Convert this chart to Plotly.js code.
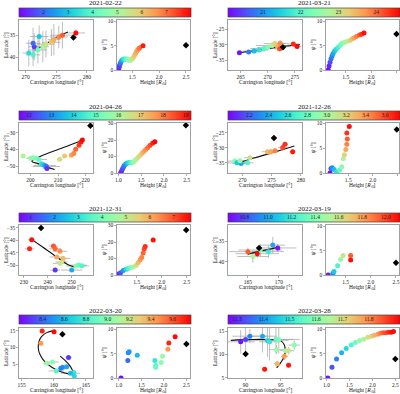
<!DOCTYPE html>
<html><head><meta charset="utf-8">
<script src="https://cdn.plot.ly/plotly-3.0.1.min.js"></script>
<style>html,body{margin:0;padding:0;background:#fff}#c{width:400px;height:394px}</style>
</head><body><div id="c"></div><script>
// ---------------- DATA ----------------
const dates = ["2021-02-22","2021-03-21","2021-04-26","2021-12-26","2021-12-31","2022-03-19","2022-03-20","2022-03-28"];

// 2021-02-22
const e1_trange = [1.0, 8.0];
const e1_cbticks = [2,3,4,5,6,7];
const e1_t    = [1.5, 2.0, 3.0, 3.3, 3.8, 4.3, 5.0, 5.5, 6.0, 6.3, 6.8, 7.2, 7.9];
const e1_lon  = [271.4, 271.2, 272.2, 270.5, 271.2, 272.0, 272.8, 273.3, 274.2, 274.6, 275.4, 276.0, 278.2];
const e1_lat  = [-37.6, -36.8, -35.3, -39.0, -39.4, -38.3, -37.6, -37.0, -36.6, -36.0, -35.4, -35.0, -34.5];
const e1_elon = [1.0, 1.2, 1.5, 1.0, 1.2, 1.5, 1.0, 1.5, 1.5, 1.0, 1.5, 2.0, 1.5];
const e1_elat = [3.0, 3.5, 2.5, 3.0, 2.5, 3.0, 3.5, 3.0, 3.0, 3.5, 2.5, 3.0, 0.8];
const e1_fitlon = [271.5, 272.8, 274.2, 275.6, 276.9];
const e1_fitlat = [-38.4, -37.4, -36.2, -35.1, -34.3];
const e1_h   = [1.24,1.25,1.26,1.27,1.28,1.30,1.32,1.34,1.36,1.38,1.40,1.42,1.44,1.46,1.48,1.50,1.52,1.54,1.56,1.58,1.60,1.62,1.64,1.70];
const e1_psi = [0.0,0.4,0.8,1.2,1.5,1.9,2.1,2.2,2.25,2.25,2.2,2.1,2.0,2.0,2.1,2.3,2.6,3.0,3.4,3.8,4.1,4.4,4.6,5.0];
const e1_ht  = [1.1,1.3,1.5,1.8,2.1,2.5,2.9,3.3,3.6,3.9,4.2,4.5,4.7,4.9,5.1,5.4,5.7,6.0,6.2,6.4,6.6,6.8,7.0,7.8];
const e1_ref = [277.8, -35.5, 2.5, 5.1];

// 2021-03-21
const e2_trange = [20.07, 24.63];
const e2_cbticks = [21,22,23,24];
const e2_t    = [20.2, 20.8, 21.3, 21.7, 22.0, 22.3, 22.8, 23.2, 23.5, 23.8, 24.2, 24.4, 24.6];
const e2_lon  = [264.8, 266.5, 267.5, 268.4, 269.3, 270.0, 270.8, 271.3, 271.8, 272.3, 272.2, 274.7, 275.4];
const e2_lat  = [-32.6, -32.3, -32.0, -31.7, -31.2, -30.9, -30.2, -29.6, -30.6, -29.5, -31.3, -29.7, -30.5];
const e2_elon = [0.5, 1.5, 2.0, 1.5, 2.5, 2.0, 3.0, 2.0, 2.5, 1.5, 1.0, 1.0, 0.8];
const e2_elat = [0.3, 0.5, 0.8, 0.6, 0.8, 1.0, 1.0, 0.8, 1.2, 0.9, 0.8, 0.5, 0.5];
const e2_fitlon = [264.5, 267.5, 270.5, 273.5, 275.9];
const e2_fitlat = [-32.6, -31.9, -31.1, -30.4, -29.9];
const e2_h   = [1.155,1.17,1.19,1.21,1.23,1.25,1.28,1.31,1.35,1.39,1.43,1.48,1.53,1.58,1.62,1.66,1.71,1.77,1.81,1.86];
const e2_psi = [0.0,0.8,1.6,2.3,2.9,3.4,3.9,4.3,4.7,5.1,5.5,5.7,5.9,6.1,6.4,6.6,6.9,7.2,7.35,7.6];
const e2_ht  = [20.1,20.3,20.5,20.7,20.9,21.1,21.35,21.6,21.85,22.1,22.35,22.6,22.85,23.1,23.35,23.6,23.85,24.1,24.3,24.55];
const e2_ref = [272.8, -30.8, 2.5, 7.4];

// 2021-04-26
const e3_trange = [11.55, 19.25];
const e3_cbticks = [12,13,14,15,16,17,18,19];
const e3_t    = [16.0, 15.8, 15.5, 15.3, 15.0, 14.3, 14.0, 13.3, 12.8, 12.0, 16.6, 17.0, 17.5, 17.9, 18.3, 18.7, 19.0, 19.2];
const e3_lon  = [197.4, 200.1, 201.0, 202.0, 203.0, 204.0, 204.5, 205.2, 205.8, 206.0, 210.6, 212.4, 214.8, 215.7, 216.4, 217.6, 218.3, 218.8];
const e3_lat  = [-43.9, -45.3, -45.0, -45.3, -46.0, -48.5, -49.0, -49.6, -50.2, -51.4, -45.9, -43.9, -43.5, -42.4, -39.8, -37.5, -35.5, -34.3];
const e3_elon = [0.5, 1.5, 2.0, 2.0, 3.0, 2.0, 2.0, 4.0, 5.0, 1.5, 1.0, 1.0, 0.8, 0.5, 0.5, 0.5, 0.5, 0.5];
const e3_elat = [0.5, 0.8, 0.8, 1.0, 1.0, 1.0, 1.0, 1.0, 1.0, 1.0, 0.8, 0.8, 0.8, 0.8, 0.8, 0.5, 0.5, 0.5];
const e3_fitlon = [208.8, 206.5, 204.6, 202.5, 201.0, 200.5, 201.2, 202.2, 204.5, 207.0, 210.0, 213.0, 216.0, 219.0];
const e3_fitlat = [-52.0, -50.8, -49.4, -48.3, -47.6, -46.9, -46.0, -45.3, -43.5, -41.8, -40.0, -38.2, -36.3, -34.3];
const e3_h   = [1.05,1.07,1.09,1.11,1.13,1.16,1.19,1.22,1.25,1.28,1.31,1.34,1.37,1.40,1.44,1.48,1.52,1.56,1.60,1.64,1.69,1.75,1.80];
const e3_psi = [0.0,1.2,2.4,3.5,4.5,5.4,5.9,6.2,6.3,6.3,6.5,7.0,7.8,8.6,9.7,10.8,12.0,13.1,14.2,15.3,16.7,18.0,19.0];
const e3_ht  = [11.6,11.9,12.2,12.5,12.8,13.2,13.6,14.0,14.4,14.8,15.2,15.6,16.0,16.3,16.6,16.9,17.2,17.5,17.8,18.1,18.5,18.9,19.2];
const e3_ref = [221.7, -25.7, 2.48, 28.9];

// 2021-12-26
const e4_trange = [1.98, 3.755];
const e4_cbticks = [2.2,2.4,2.6,2.8,3.0,3.2,3.4,3.6];
const e4_t    = [2.85, 2.5, 2.4, 2.7, 2.95, 3.15, 3.3, 3.35, 3.45, 3.6, 3.65, 3.7];
const e4_lon  = [268.7, 269.1, 269.8, 270.9, 269.6, 271.3, 274.3, 274.9, 275.6, 276.9, 277.3, 278.6];
const e4_lat  = [-34.4, -35.0, -35.2, -35.0, -34.3, -33.3, -31.3, -31.3, -31.0, -29.9, -28.8, -31.3];
const e4_elon = [1.5, 2.0, 1.5, 1.0, 1.0, 1.0, 1.0, 0.8, 0.8, 0.8, 0.5, 0.5];
const e4_elat = [0.5, 0.6, 0.8, 0.5, 0.5, 0.8, 0.8, 1.0, 0.8, 1.0, 0.8, 0.8];
const e4_fitlon = [268.8, 272.0, 275.0, 278.9];
const e4_fitlat = [-35.4, -33.4, -31.7, -29.4];
const e4_h   = [1.127,1.147,1.17,1.21,1.26,1.32,1.365,1.40,1.42,1.45,1.47,1.48,1.47,1.52];
const e4_psi = [0.0,0.9,1.05,0.7,0.2,0.56,1.26,2.87,3.7,4.75,5.8,6.85,8.1,9.4];
const e4_ht  = [2.0,2.15,2.3,2.45,2.6,2.75,2.9,3.05,3.2,3.35,3.45,3.55,3.65,3.72];
const e4_ref = [275.4, -26.7, 2.49, 8.8];

// 2021-12-31
const e5_trange = [0.51, 7.73];
const e5_cbticks = [1,2,3,4,5,6,7];
const e5_t    = [7.6, 7.4, 7.0, 6.8, 6.4, 6.1, 5.8, 5.4, 5.0, 4.3, 3.9, 3.5, 2.2, 1.0];
const e5_lon  = [233.3, 232.4, 242.4, 243.1, 245.1, 243.75, 246.5, 245.8, 245.1, 251.8, 252.8, 254.2, 250.0, 243.1];
const e5_lat  = [-39.8, -43.4, -42.3, -43.4, -44.4, -46.7, -47.3, -48.7, -49.3, -50.4, -50.0, -50.3, -52.0, -52.0];
const e5_elon = [1.5, 2.0, 2.0, 2.5, 3.0, 3.0, 3.0, 2.5, 3.0, 4.0, 3.5, 3.0, 4.5, 2.0];
const e5_elat = [0.5, 0.6, 0.8, 1.0, 0.8, 0.8, 1.0, 0.8, 0.8, 0.8, 0.8, 0.8, 0.6, 0.6];
const e5_fitlon = [233.6, 238.0, 242.0, 246.0, 249.0, 251.0, 253.0];
const e5_fitlat = [-39.8, -42.8, -45.5, -48.3, -50.1, -50.7, -50.3];
const e5_h   = [1.15,1.18,1.23,1.29,1.33,1.38,1.43,1.49,1.53,1.57,1.60,1.63,1.65,1.67,1.83];
const e5_psi = [0.8,1.4,2.7,3.5,3.9,4.5,4.9,5.9,7.6,9.2,10.6,13.3,15.7,17.3,21.2];
const e5_ht  = [0.7,1.3,2.0,2.8,3.4,4.0,4.6,5.3,5.8,6.2,6.5,6.8,7.1,7.3,7.6];
const e5_ref = [237.2, -35.0, 2.49, 27.3];

// 2022-03-19
const e6_trange = [10.66, 12.12];
const e6_cbticks = [10.8,11.0,11.2,11.4,11.6,11.8,12.0];
const e6_t    = [10.7, 11.0, 11.2, 11.35, 12.1, 11.95, 11.5];
const e6_lon  = [169.8, 169.0, 168.3, 167.0, 166.5, 165.0, 165.8];
const e6_lat  = [-36.6, -35.9, -37.5, -37.1, -38.0, -37.5, -38.7];
const e6_elon = [3.0, 2.0, 2.5, 3.5, 3.5, 3.0, 2.5];
const e6_elat = [1.0, 2.0, 1.5, 1.5, 1.0, 1.0, 1.5];
const e6_fitlon = [165.0, 167.5, 170.0];
const e6_fitlat = [-38.1, -37.2, -36.4];
const e6_h   = [1.155, 1.25, 1.27, 1.34, 1.40, 1.45, 1.60, 1.60];
const e6_psi = [0.0, 0.35, 0.7, 1.9, 3.2, 4.0, 4.0, 3.1];
const e6_ht  = [10.7, 10.95, 11.1, 11.25, 11.45, 11.6, 11.95, 12.1];
const e6_ref = [166.8, -36.6, 2.5, 2.5];

// 2022-03-20
const e7_trange = [8.18, 9.77];
const e7_cbticks = [8.4,8.6,8.8,9.0,9.2,9.4,9.6];
const e7_t    = [9.7, 9.75, 9.45, 9.05, 9.0, 8.3, 8.5, 8.45, 8.55, 8.85, 8.75, 8.7, 8.6];
const e7_lon  = [158.2, 160.05, 158.0, 158.9, 159.8, 162.3, 161.4, 161.1, 162.0, 160.4, 163.1, 163.2, 162.6];
const e7_lat  = [15.0, 14.8, 11.3, 5.2, 5.6, 7.0, 4.0, 3.7, 4.2, 2.9, 2.4, 1.4, 2.2];
const e7_elon = [0.3, 0.3, 0.3, 0.5, 1.0, 0.5, 0.5, 0.5, 0.5, 1.2, 0.3, 0.3, 1.5];
const e7_elat = [0.3, 0.3, 0.3, 0.3, 0.3, 0.3, 0.3, 0.3, 0.3, 0.3, 0.3, 0.3, 0.3];
const e7_fitlon = [160.05, 158.9, 158.1, 157.7, 157.6, 157.9, 158.6, 159.7, 161.0, 162.3, 162.8];
const e7_fitlat = [15.1, 14.5, 13.3, 11.8, 9.7, 7.7, 5.7, 4.0, 2.7, 2.0, 1.9];
const e7_fit2lon = [161.0, 161.8, 162.6, 163.0];
const e7_fit2lat = [7.4, 6.0, 4.2, 2.7];
const e7_h   = [1.05, 1.20, 1.21, 1.23, 1.41, 1.80, 1.82, 1.82, 1.94, 1.97, 2.09, 2.11, 2.25];
const e7_psi = [0.0, 3.6, 5.2, 5.4, 4.7, 3.6, 2.6, 2.2, 3.2, 4.5, 5.9, 7.2, 8.5];
const e7_ht  = [8.2, 8.4, 8.45, 8.5, 8.6, 8.75, 8.85, 8.9, 9.0, 9.05, 9.45, 9.7, 9.75];
const e7_ref = [161.35, 14.0, 2.5, 7.0];

// 2022-03-28
const e8_trange = [11.266, 11.918];
const e8_cbticks = [11.3,11.4,11.5,11.6,11.7,11.8];
const e8_t    = [11.28, 11.32, 11.38, 11.42, 11.47, 11.5, 11.55, 11.58, 11.62, 11.6, 11.65, 11.68, 11.78, 11.75, 11.9, 11.9];
const e8_lon  = [89.3, 90.0, 90.6, 92.4, 93.1, 93.4, 94.3, 94.7, 94.4, 96.9, 95.7, 96.1, 95.5, 94.5, 92.7, 96.1];
const e8_lat  = [12.7, 13.2, 13.9, 13.9, 13.0, 12.7, 13.2, 13.2, 11.0, 12.0, 10.8, 10.8, 9.6, 8.0, 6.8, 7.7];
const e8_elon = [2.0, 1.5, 2.5, 2.0, 3.0, 1.5, 2.5, 3.0, 1.0, 0.8, 0.8, 0.8, 0.5, 0.5, 0.3, 0.3];
const e8_elat = [2.5, 3.5, 1.5, 3.5, 3.5, 4.0, 3.0, 3.0, 1.0, 1.0, 0.8, 0.8, 0.8, 0.6, 0.4, 0.4];
const e8_fitlon = [87.9, 89.0, 91.0, 92.9, 94.3, 95.0, 95.5, 95.6, 95.5, 95.0, 94.4];
const e8_fitlat = [13.0, 13.1, 13.2, 13.2, 13.1, 12.9, 12.0, 11.0, 9.6, 8.3, 7.1];
const e8_h   = [1.03,1.12,1.22,1.33,1.43,1.54,1.63,1.72,1.81,1.90,1.98,2.04,2.12,2.17,2.23,2.29,2.35,2.41,2.46];
const e8_psi = [0.0,2.2,3.9,5.2,6.1,6.8,7.3,7.7,8.0,8.4,8.6,8.8,9.0,9.2,9.3,9.3,9.4,9.4,9.6];
const e8_ht  = [11.28,11.33,11.38,11.43,11.48,11.53,11.57,11.61,11.65,11.69,11.72,11.75,11.78,11.81,11.84,11.86,11.88,11.9,11.91];
const e8_ref = [90.0, 10.1, 2.5, 3.9];

// ---------------- BUILD ----------------
const EV = [
 {t:e1_t,lon:e1_lon,lat:e1_lat,elon:e1_elon,elat:e1_elat,fits:[[e1_fitlon,e1_fitlat]],h:e1_h,psi:e1_psi,ht:e1_ht,ref:e1_ref,tr:e1_trange,cbt:e1_cbticks},
 {t:e2_t,lon:e2_lon,lat:e2_lat,elon:e2_elon,elat:e2_elat,fits:[[e2_fitlon,e2_fitlat]],h:e2_h,psi:e2_psi,ht:e2_ht,ref:e2_ref,tr:e2_trange,cbt:e2_cbticks},
 {t:e3_t,lon:e3_lon,lat:e3_lat,elon:e3_elon,elat:e3_elat,fits:[[e3_fitlon,e3_fitlat]],h:e3_h,psi:e3_psi,ht:e3_ht,ref:e3_ref,tr:e3_trange,cbt:e3_cbticks},
 {t:e4_t,lon:e4_lon,lat:e4_lat,elon:e4_elon,elat:e4_elat,fits:[[e4_fitlon,e4_fitlat]],h:e4_h,psi:e4_psi,ht:e4_ht,ref:e4_ref,tr:e4_trange,cbt:e4_cbticks},
 {t:e5_t,lon:e5_lon,lat:e5_lat,elon:e5_elon,elat:e5_elat,fits:[[e5_fitlon,e5_fitlat]],h:e5_h,psi:e5_psi,ht:e5_ht,ref:e5_ref,tr:e5_trange,cbt:e5_cbticks},
 {t:e6_t,lon:e6_lon,lat:e6_lat,elon:e6_elon,elat:e6_elat,fits:[[e6_fitlon,e6_fitlat]],h:e6_h,psi:e6_psi,ht:e6_ht,ref:e6_ref,tr:e6_trange,cbt:e6_cbticks},
 {t:e7_t,lon:e7_lon,lat:e7_lat,elon:e7_elon,elat:e7_elat,fits:[[e7_fitlon,e7_fitlat],[e7_fit2lon,e7_fit2lat]],h:e7_h,psi:e7_psi,ht:e7_ht,ref:e7_ref,tr:e7_trange,cbt:e7_cbticks},
 {t:e8_t,lon:e8_lon,lat:e8_lat,elon:e8_elon,elat:e8_elat,fits:[[e8_fitlon,e8_fitlat]],h:e8_h,psi:e8_psi,ht:e8_ht,ref:e8_ref,tr:e8_trange,cbt:e8_cbticks}
];

// axis view settings (layout only)
const VIEW = [
 {lx:[268.9,281.0],ldx:5,ly:[-42.8,-31.6],ldy:5,rx:[1.215,2.575],ry:[0,10.3],rdy:5,cbf:'d'},
 {lx:[262.7,276.3],ldx:5,ly:[-38.2,-21.9],ldy:5,rx:[1.11,2.55],ry:[0,10.3],rdy:5,cbf:'d'},
 {lx:[195.9,222.65],ldx:10,ly:[-54.1,-24.1],ldy:10,rx:[0.97,2.57],ry:[0,30.3],rdy:10,cbf:'d'},
 {lx:[267.55,280.2],ldx:5,ly:[-38.4,-21.7],ldy:5,rx:[1.045,2.535],ry:[0,10.1],rdy:5,cbf:'.1f'},
 {lx:[228.0,258.9],ldx:10,ly:[-54.0,-33.8],ldy:5,rx:[1.106,2.566],ry:[0,30.3],rdy:10,cbf:'d'},
 {lx:[161.8,173.7],ldx:5,ly:[-43.2,-31.0],ldy:5,rx:[1.11,2.56],ry:[0,10.3],rdy:5,cbf:'.1f'},
 {lx:[154.6,166.1],ldx:5,ly:[0.76,15.9],ldy:5,rx:[0.96,2.58],ry:[0,10.3],rdy:5,cbf:'.1f'},
 {lx:[87.5,98.0],ldx:5,ly:[4.95,15.65],ldy:5,rx:[0.99,2.58],ry:[0,10.3],rdy:5,cbf:'.1f'}
];

const FONT = '"Liberation Serif", "Times New Roman", serif';
const RAINBOW = [[0,'rgb(128,0,255)'],[0.1,'rgb(77,79,252)'],[0.2,'rgb(26,150,243)'],[0.3,'rgb(26,206,227)'],[0.4,'rgb(77,243,206)'],[0.5,'rgb(128,255,180)'],[0.6,'rgb(179,243,150)'],[0.7,'rgb(230,206,116)'],[0.8,'rgb(255,150,79)'],[0.9,'rgb(255,79,40)'],[1,'rgb(255,0,0)']];
const W = 400, H = 394;
const colX = [0, 209];
const panelTop = [20, 123, 225, 328];
const cbTop = [7.5, 111, 213, 315];
const PH = 50;

const traces = [];
const layout = {
  width: W, height: H, margin: {l:0, r:0, t:0, b:0},
  paper_bgcolor: '#fff', plot_bgcolor: '#fff', showlegend: false,
  font: {family: FONT, size: 5.5, color: '#222'},
  annotations: []
};

function axStyle(o) {
  return Object.assign({
    showline: true, mirror: true, linecolor: '#777', linewidth: 0.7,
    ticks: 'outside', ticklen: 2, tickwidth: 0.6, tickcolor: '#777',
    tickfont: {family: FONT, size: 5.5, color: '#222'},
    showgrid: false, zeroline: false, fixedrange: true
  }, o);
}
const fx = px => px / W;
const fy = py => 1 - py / H;

EV.forEach((e, k) => {
  const v = VIEW[k];
  const col = k % 2, row = Math.floor(k / 2);
  const cx = colX[col];
  const top = panelTop[row], bot = top + PH;
  const iL = 2 * k + 1, iR = 2 * k + 2;
  const xL = 'x' + iL, yL = 'y' + iL, xR = 'x' + iR, yR = 'y' + iR;
  const kx = n => n === 1 ? 'xaxis' : 'xaxis' + n;
  const ky = n => n === 1 ? 'yaxis' : 'yaxis' + n;
  const xLref = iL === 1 ? 'x' : xL, yLref = iL === 1 ? 'y' : yL;

  layout[kx(iL)] = axStyle({domain: [fx(19 + cx), fx(93 + cx)], range: v.lx, dtick: v.ldx, tick0: 0, anchor: yLref});
  layout[ky(iL)] = axStyle({domain: [fy(bot), fy(top)], range: v.ly, dtick: v.ldy, tick0: 0, anchor: xLref});
  layout[kx(iR)] = axStyle({domain: [fx(117 + cx), fx(190 + cx)], range: v.rx, dtick: 0.5, tick0: 0, tickformat: '.1f', anchor: yR});
  layout[ky(iR)] = axStyle({domain: [fy(bot), fy(top)], range: v.ry, dtick: v.rdy, tick0: 0, anchor: xR});

  const cmin = e.tr[0], cmax = e.tr[1];
  // error bars
  traces.push({type: 'scatter', mode: 'markers', x: e.lon, y: e.lat, xaxis: xLref, yaxis: yLref,
    marker: {size: 1, color: 'rgba(0,0,0,0)'}, hoverinfo: 'skip',
    error_x: {type: 'data', array: e.elon, color: '#a0a0a0', thickness: 0.7, width: 0},
    error_y: {type: 'data', array: e.elat, color: '#a0a0a0', thickness: 0.7, width: 0}});
  // fit curves
  e.fits.forEach(f => traces.push({type: 'scatter', mode: 'lines', x: f[0], y: f[1], xaxis: xLref, yaxis: yLref,
    line: {color: '#111', width: 1.1, shape: 'spline'}}));
  // points with colorbar
  traces.push({type: 'scatter', mode: 'markers', x: e.lon, y: e.lat, xaxis: xLref, yaxis: yLref,
    marker: {size: 5, color: e.t, cmin: cmin, cmax: cmax, colorscale: RAINBOW, showscale: true,
      colorbar: {orientation: 'h', x: fx(19 + cx), xanchor: 'left', y: fy(cbTop[row]), yanchor: 'top',
        len: 172, lenmode: 'pixels', thickness: 9, thicknessmode: 'pixels', xpad: 0, ypad: 0,
        outlinewidth: 0.7, outlinecolor: '#444', ticks: '', ticklen: 0,
        tickvals: e.cbt, tickformat: v.cbf, ticklabelposition: 'inside',
        tickfont: {family: FONT, size: 5.5, color: '#222'}}}});
  // reference marker
  traces.push({type: 'scatter', mode: 'markers', x: [e.ref[0]], y: [e.ref[1]], xaxis: xLref, yaxis: yLref,
    marker: {symbol: 'diamond', size: 5, color: '#000'}});
  // height / psi
  traces.push({type: 'scatter', mode: 'markers', x: e.h, y: e.psi, xaxis: xR, yaxis: yR,
    marker: {size: 5, color: e.ht, cmin: cmin, cmax: cmax, colorscale: RAINBOW, showscale: false}});
  traces.push({type: 'scatter', mode: 'markers', x: [e.ref[2]], y: [e.ref[3]], xaxis: xR, yaxis: yR,
    marker: {symbol: 'diamond', size: 5, color: '#000'}});

  // titles & axis labels
  const A = layout.annotations;
  const tf = s => ({family: FONT, size: s, color: '#111'});
  A.push({xref: 'paper', yref: 'paper', x: fx(105 + cx), y: fy(cbTop[row] - 4), text: dates[k],
    showarrow: false, xanchor: 'center', yanchor: 'middle', font: tf(7)});
  A.push({xref: 'paper', yref: 'paper', x: fx(56 + cx), y: fy(bot + 12), text: 'Carrington longitude [°]',
    showarrow: false, xanchor: 'center', yanchor: 'middle', font: tf(5.5)});
  A.push({xref: 'paper', yref: 'paper', x: fx(153 + cx), y: fy(bot + 12), text: 'Height [<i>R</i><sub>⊙</sub>]',
    showarrow: false, xanchor: 'center', yanchor: 'middle', font: tf(5.5)});
  A.push({xref: 'paper', yref: 'paper', x: fx(6 + cx), y: fy(top + 25), text: 'Latitude [°]', textangle: -90,
    showarrow: false, xanchor: 'center', yanchor: 'middle', font: tf(5.5)});
  A.push({xref: 'paper', yref: 'paper', x: fx(104 + cx), y: fy(top + 25), text: '<i>ψ</i> [°]', textangle: -90,
    showarrow: false, xanchor: 'center', yanchor: 'middle', font: tf(5.5)});
});

Plotly.newPlot('c', traces, layout, {displayModeBar: false, staticPlot: true});
</script></body></html>
